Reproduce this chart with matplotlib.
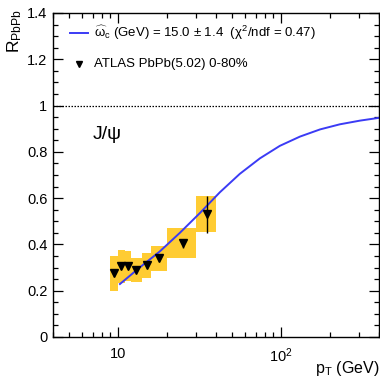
import matplotlib
matplotlib.use("Agg")
import matplotlib.pyplot as plt
import numpy as np
from matplotlib.ticker import MultipleLocator, LogLocator, NullFormatter

plt.rcParams['font.family'] = ['Liberation Sans', 'DejaVu Sans']
plt.rcParams['mathtext.fontset'] = 'custom'
plt.rcParams['mathtext.rm'] = 'Liberation Sans'
plt.rcParams['mathtext.it'] = 'Liberation Sans'
plt.rcParams['mathtext.bf'] = 'Liberation Sans:bold'

# ATLAS J/psi data (PbPb 5.02 TeV, 0-80%)
bin_lo = [9, 10, 11, 12, 14, 16, 20, 30]
bin_hi = [10, 11, 12, 14, 16, 20, 30, 40]
pt = [9.5, 10.5, 11.5, 13, 15, 18, 25, 35]
raa = [0.275, 0.305, 0.305, 0.29, 0.31, 0.34, 0.405, 0.53]
sys_err = [0.077, 0.07, 0.065, 0.053, 0.055, 0.055, 0.064, 0.078]
stat_err = [0.01, 0.01, 0.01, 0.01, 0.01, 0.012, 0.02, 0.08]

# model curve
curve_pt = [10.3, 13.6, 18.1, 24.0, 31.8, 42.2, 56.0, 74.4, 98.6, 131, 174, 230, 306, 400]
curve_r = [0.229, 0.30, 0.37, 0.45, 0.535, 0.625, 0.705, 0.772, 0.826, 0.866, 0.897, 0.919, 0.935, 0.947]

y_ticks = [0, 0.2, 0.4, 0.6, 0.8, 1.0, 1.2, 1.4]
y_labels = ['0', '0.2', '0.4', '0.6', '0.8', '1', '1.2', '1.4']

fig = plt.figure(figsize=(3.8, 3.82), dpi=100)
ax = fig.add_axes([53 / 380, 45 / 382, 326 / 380, 324 / 382])

lo = np.array(bin_lo, dtype=float)
hi = np.array(bin_hi, dtype=float)
r = np.array(raa)
s = np.array(sys_err)
ax.bar(lo, 2 * s, width=hi - lo, bottom=r - s, align='edge', color='#FFCC33', edgecolor='none', zorder=1)

ax.plot(curve_pt, curve_r, color='#3B3BF5', lw=1.4, zorder=2)

ax.errorbar(pt, raa, yerr=stat_err, fmt='none', ecolor='black', elinewidth=1.0, capsize=0, zorder=3)
ax.plot(pt, raa, 'v', color='black', ms=5.5, zorder=4)

ax.axhline(1.0, color='black', ls=(0, (1.2, 1.2)), lw=0.9, zorder=2)

ax.set_xscale('log')
ax.set_xlim(4, 400)
ax.set_ylim(0, 1.4)

ax.set_xticks([10, 100])
ax.set_xticklabels(['10', '$10^{2}$'])
ax.xaxis.set_minor_locator(LogLocator(base=10, subs=np.arange(2, 10)))
ax.xaxis.set_minor_formatter(NullFormatter())
ax.set_yticks(y_ticks)
ax.set_yticklabels(y_labels)
ax.yaxis.set_minor_locator(MultipleLocator(0.05))

ax.tick_params(which='both', direction='in', top=True, right=True, labelsize=10.5, width=0.9)
ax.tick_params(which='major', length=7)
ax.tick_params(which='minor', length=3.5)
ax.tick_params(axis='x', pad=7)
ax.tick_params(axis='y', pad=4)
for sp in ax.spines.values():
    sp.set_linewidth(1.0)

# axis titles
fig.text(15 / 380, 1 - 9 / 382, r'R$_{\mathrm{PbPb}}$', rotation=90, ha='center', va='top', fontsize=12.5)
fig.text(379 / 380, 1 - 373 / 382, r'p$_{\mathrm{T}}$ (GeV)', ha='right', va='baseline', fontsize=11.5)

# legend
fig.lines.append(plt.Line2D([70 / 380, 88 / 380], [1 - 33 / 382, 1 - 33 / 382], color='#3B3BF5', lw=1.4,
                            transform=fig.transFigure))
fig.text(94 / 380, 1 - 33 / 382, r'$\widehat{\omega}_c$ (GeV) = 15.0 ± 1.4  ($\chi^2$/ndf = 0.47)',
         ha='left', va='center', fontsize=9.5)
fig.lines.append(plt.Line2D([79 / 380], [1 - 64 / 382], marker='v', color='black', ms=5, ls='none',
                            transform=fig.transFigure))
fig.text(94 / 380, 1 - 64 / 382, 'ATLAS PbPb(5.02) 0-80%', ha='left', va='center', fontsize=9.5)

fig.text(93 / 380, 1 - 139 / 382, 'J/ψ', ha='left', va='baseline', fontsize=14)

fig.savefig('out.png', dpi=100)
